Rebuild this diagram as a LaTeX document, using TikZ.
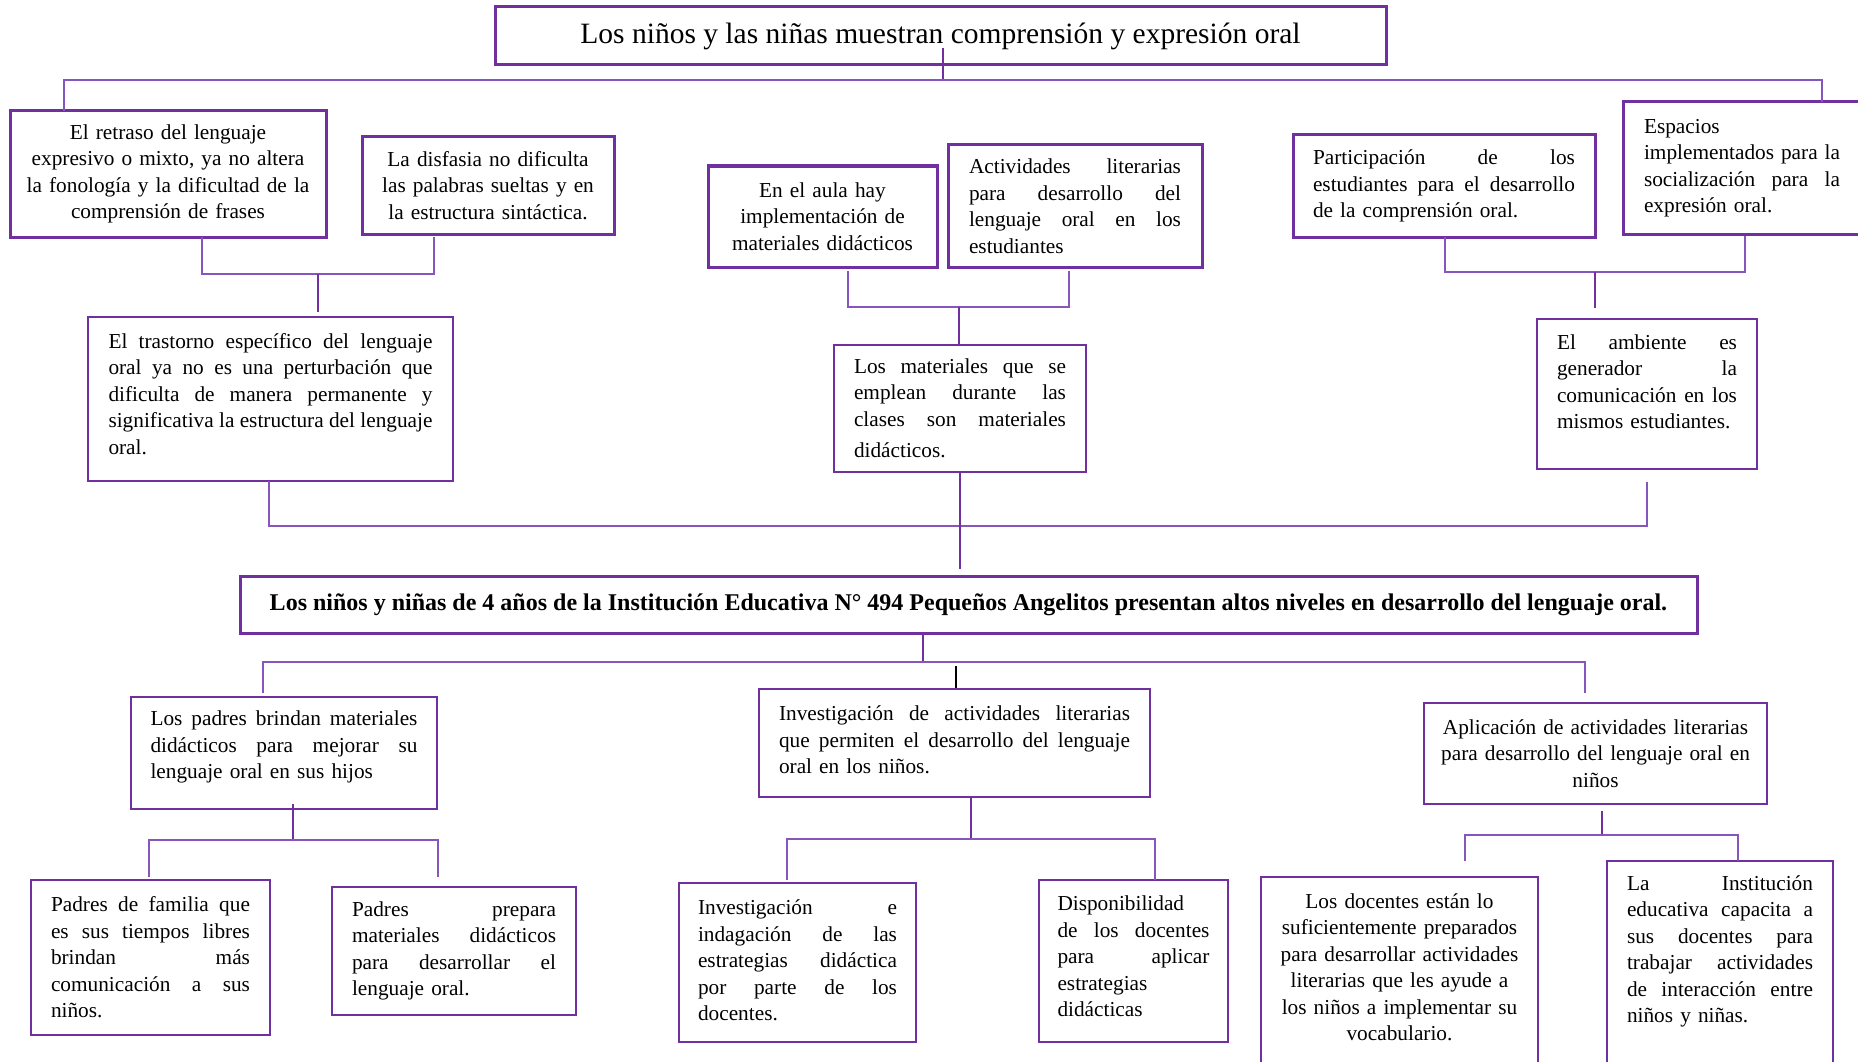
\documentclass[tikz,border=0pt]{standalone}
\usepackage{fontspec}
\setmainfont{Liberation Serif}
\definecolor{pu}{HTML}{7030A0}
\definecolor{pul}{HTML}{8655BE}
\newcommand\JL[1]{\leavevmode\hbox to\hsize{\spaceskip=0.25em plus 20em minus 0.1em\xspaceskip=\spaceskip\relax #1}}
\newcommand\padb[1]{\par\kern#1pt}
\newcommand\bodyf{\fontsize{21.3}{26.5}\selectfont}
\tikzset{
  thickbox/.style={draw=pu, line width=3pt, inner sep=0pt, outer sep=0pt, font=\bodyf},
  thinbox/.style={draw=pu, line width=1.6pt, inner sep=0pt, outer sep=0pt, font=\bodyf},
  conn/.style={draw=pul, line width=2pt},
  stem/.style={draw=pu, line width=2.4pt},
  dk/.style={draw=black, line width=1.4pt},
}
\begin{document}
\begin{tikzpicture}[x=1pt,y=-1pt]
\useasboundingbox[fill=white] (0,0) rectangle (1858,1062);

% top level
\node[thickbox, minimum width=891pt, minimum height=58pt, font=\fontsize{29.5}{34}\selectfont] (t1) at (940.5,36) {Los niños y las niñas muestran comprensión y expresión oral};

\node[thickbox, minimum width=316pt, minimum height=126pt, text width=300pt, align=center] (b1) at (168,174)
 {El retraso del lenguaje\\ expresivo o mixto, ya no altera\\ la fonología y la dificultad de la\\ comprensión de frases};
\node[thickbox, minimum width=252pt, minimum height=97pt, text width=240pt, align=center] (b2) at (488,185.5)
 {La disfasia no dificulta\\ las palabras sueltas y en\\ la estructura sintáctica.};
\node[thinbox, minimum width=365pt, minimum height=164pt, text width=324pt, align=left] (b3) at (270.5,399)
 {\JL{El trastorno específico del lenguaje}\\ \JL{oral ya no es una perturbación que}\\ \JL{dificulta de manera permanente y}\\ \JL{significativa la estructura del lenguaje}\\ oral.\padb{10}};

\node[thickbox, minimum width=229pt, minimum height=101pt, text width=220pt, align=center] (b4) at (822.5,216.5)
 {En el aula hay\\ implementación de\\ materiales didácticos};
\node[thickbox, minimum width=254pt, minimum height=122pt, text width=212pt, align=left] (b5) at (1075,206)
 {\JL{Actividades literarias}\\ \JL{para desarrollo del}\\ \JL{lenguaje oral en los}\\ estudiantes};
\node[thinbox, minimum width=252pt, minimum height=127pt, text width=212pt, align=left] (b6) at (960,408.5)
 {\JL{Los materiales que se}\\ \JL{emplean durante las}\\ \JL{clases son materiales}\\[5pt] didácticos.};

\node[thickbox, minimum width=302pt, minimum height=102pt, text width=262pt, align=left] (b7) at (1444,186)
 {\JL{Participación de los}\\ \JL{estudiantes para el desarrollo}\\ de la comprensión oral.};
\node[thickbox, minimum width=238pt, minimum height=132pt, text width=196pt, align=left] (b8) at (1742,168)
 {Espacios\\ \JL{implementados para la}\\ \JL{socialización para la}\\ expresión oral.};
\node[thinbox, minimum width=220pt, minimum height=150pt, text width=180pt, align=left] (b9) at (1647,394)
 {\JL{El ambiente es}\\ \JL{generador la}\\ \JL{comunicación en los}\\ mismos estudiantes.\padb{24}};

% second level
\node[thickbox, minimum width=1457pt, minimum height=57pt, font=\fontsize{24}{28}\selectfont\bfseries] (t2) at (968.5,604.5)
 {Los niños y niñas de 4 años de la Institución Educativa N° 494 Pequeños Angelitos presentan altos niveles en desarrollo del lenguaje oral.};

\node[thinbox, minimum width=306pt, minimum height=112pt, text width=267pt, align=left] (L1) at (284,753)
 {\JL{Los padres brindan materiales}\\ \JL{didácticos para mejorar su}\\ lenguaje oral en sus hijos\padb{12}};
\node[thinbox, minimum width=391pt, minimum height=108pt, text width=351pt, align=left] (M1) at (954.5,743)
 {\JL{Investigación de actividades literarias}\\ \JL{que permiten el desarrollo del lenguaje}\\ oral en los niños.\padb{6}};
\node[thinbox, minimum width=343pt, minimum height=101pt, text width=320pt, align=center] (R1) at (1595.5,753.5)
 {Aplicación de actividades literarias\\ para desarrollo del lenguaje oral en\\ niños};

\node[thinbox, minimum width=239pt, minimum height=155pt, text width=199pt, align=left] (L2) at (150.5,957.5)
 {\JL{Padres de familia que}\\ \JL{es sus tiempos libres}\\ \JL{brindan más}\\ \JL{comunicación a sus}\\ niños.};
\node[thinbox, minimum width=244pt, minimum height=128pt, text width=204pt, align=left] (L3) at (454,951)
 {\JL{Padres prepara}\\ \JL{materiales didácticos}\\ \JL{para desarrollar el}\\ lenguaje oral.};
\node[thinbox, minimum width=237pt, minimum height=159pt, text width=199pt, align=left] (M2) at (797.5,962.5)
 {\JL{Investigación e}\\ \JL{indagación de las}\\ \JL{estrategias didáctica}\\ \JL{por parte de los}\\ docentes.\padb{4}};
\node[thinbox, minimum width=189pt, minimum height=162pt, text width=152pt, align=left] (M3) at (1133.5,961)
 {Disponibilidad\\ \JL{de los docentes}\\ \JL{para aplicar}\\ estrategias\\ didácticas\padb{9}};
\node[thinbox, minimum width=277pt, minimum height=203pt, text width=260pt, align=center] (R2) at (1399.5,978.5)
 {Los docentes están lo\\ suficientemente preparados\\ para desarrollar actividades\\ literarias que les ayude a\\ los niños a implementar su\\ vocabulario.\padb{23}};
\node[thinbox, minimum width=226pt, minimum height=219pt, text width=186pt, align=left] (R3) at (1720,970.5)
 {\JL{La Institución}\\ \JL{educativa capacita a}\\ \JL{sus docentes para}\\ \JL{trabajar actividades}\\ \JL{de interacción entre}\\ niños y niñas.\padb{38}};

% junctions
\coordinate (top) at (943,80);
\coordinate (j1) at (318,274);
\coordinate (j2) at (959,307);
\coordinate (j3) at (1595,272);
\coordinate (j4) at (959,526);
\coordinate (j5) at (923,662);
\coordinate (j6) at (293,840);
\coordinate (j7) at (971,839);
\coordinate (j8) at (1602,835);
\coordinate (t2top) at ([yshift=7pt]t2.north);

% connectors, upper half
\draw[stem] ([xshift=2.5pt,yshift=17pt]t1.south) -- (top);
\draw[conn] ([xshift=54pt]b1.north west) |- (top) -| ([xshift=199pt]b8.north west);

\draw[conn] ([xshift=192pt]b1.south west) |- (j1) -| ([xshift=72pt,yshift=-3pt]b2.south west);
\draw[stem] (j1) -- ++(0,38);

\draw[conn] ([xshift=140pt,yshift=-4pt]b4.south west) |- (j2) -| ([xshift=121pt,yshift=-4pt]b5.south west);
\draw[stem] (j2) -- (j2 |- b6.north);

\draw[conn] ([xshift=152pt]b7.south west) |- (j3) -| ([xshift=122pt,yshift=-2pt]b8.south west);
\draw[stem] (j3) -- ++(0,36);

\draw[conn] ([xshift=-1.5pt]b3.south) |- (j4) -| ([yshift=-13pt]b9.south);
\draw[stem] (b6.south) -- (b6.south |- t2top);

% connectors, lower half
\draw[stem] ([xshift=-45.5pt]t2.south) -- (j5);
\draw[conn] ([xshift=132pt,yshift=4pt]L1.north west) |- (j5) -| ([xshift=161pt,yshift=10pt]R1.north west);
\draw[dk] ([xshift=1.5pt,yshift=23pt]M1.north) -- ([xshift=1.5pt,yshift=1pt]M1.north);

\draw[stem] ([xshift=9pt,yshift=5pt]L1.south) -- (j6);
\draw[conn] ([xshift=118pt,yshift=3pt]L2.north west) |- (j6) -| ([xshift=106pt,yshift=10pt]L3.north west);

\draw[stem] ([xshift=16.5pt]M1.south) -- (j7);
\draw[conn] ([xshift=108pt,yshift=3pt]M2.north west) |- (j7) -| ([xshift=116pt]M3.north west);

\draw[stem] ([xshift=6.5pt,yshift=-7pt]R1.south) -- (j8);
\draw[conn] ([xshift=204pt,yshift=16pt]R2.north west) |- (j8) -| ([xshift=131pt]R3.north west);
\end{tikzpicture}
\end{document}
